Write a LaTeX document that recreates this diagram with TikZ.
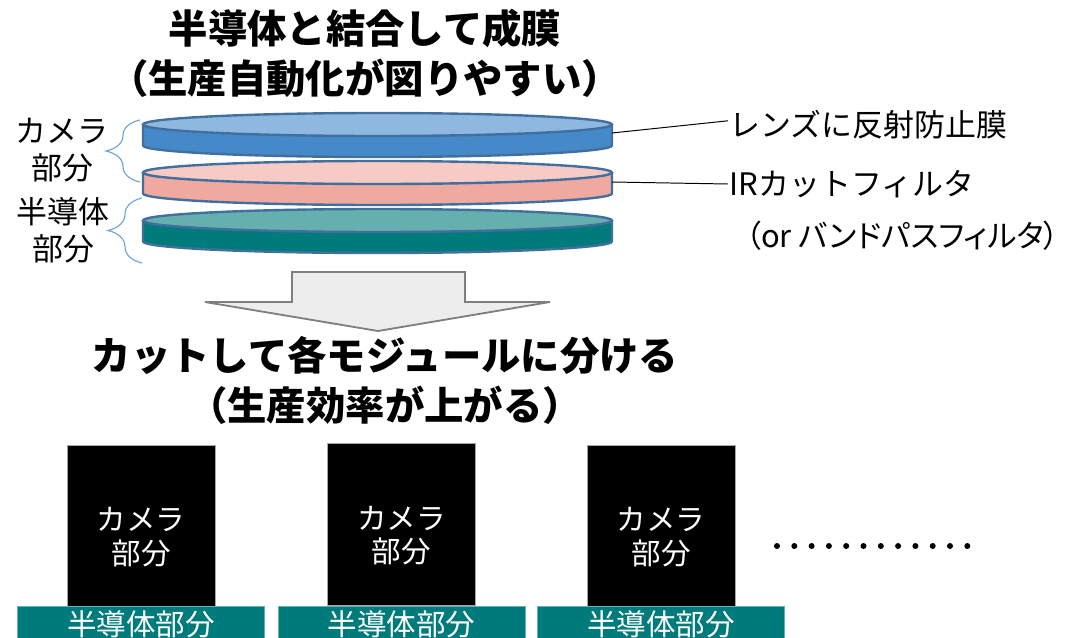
\documentclass[tikz,border=0pt]{standalone}
\usepackage{fontspec}
\setmainfont{Noto Sans CJK JP}
\usetikzlibrary{decorations.pathreplacing}
\definecolor{LensTop}{HTML}{8FB8E0}
\definecolor{LensSide}{HTML}{4589C9}
\definecolor{FilterTop}{HTML}{F7CBC5}
\definecolor{FilterSide}{HTML}{EFA99F}
\definecolor{SensorTop}{HTML}{66AFAF}
\definecolor{SensorSide}{HTML}{007B7B}
\definecolor{Rim}{HTML}{41709E}
\definecolor{Bracket}{HTML}{6FA3D8}
\definecolor{Muted}{HTML}{7F7F7F}
\definecolor{Pale}{HTML}{EDEDED}

% one layer of the stack: #1 centre y of the top face, #2 top colour, #3 side colour
\newcommand\waferdisc[3]{%
  \fill[#3] (143,#1) rectangle (612,#1+21);
  \fill[#3] (377.5,#1+21) ellipse (234.5 and 11.5);
  \draw[rim] (143,#1) -- (143,#1+21) arc (180:0:234.5 and 11.5) -- (612,#1);
  \filldraw[rim,fill=#2] (377.5,#1) ellipse (234.5 and 11.5);
}

\begin{document}
\begin{tikzpicture}[x=0.025cm,y=-0.025cm,
      rim/.style={draw=Rim,line width=1.7pt},
      title/.style={font=\bfseries\fontsize{28}{35.5}\selectfont,align=center},
      sidelabel/.style={font=\fontsize{22}{26.5}\selectfont,align=center},
      note/.style={font=\fontsize{22}{28}\selectfont,anchor=west,inner sep=1pt},
      leader/.style={draw=black,line width=0.7pt},
      curly/.style={draw=Bracket,line width=0.8pt,decorate,
        decoration={brace,amplitude=0.85cm}},
      module/.style={fill=black,draw=gray!70,line width=0.4pt,
        minimum width=3.7cm,minimum height=4.05cm,inner sep=0pt},
      modtext/.style={text=white,font=\fontsize{21}{24}\selectfont,align=center},
      base/.style={fill=SensorSide,draw=SensorSide!60,line width=0.4pt,text=white,
        minimum width=6.18cm,minimum height=0.9cm,inner sep=0pt,
        font=\fontsize{21}{24}\selectfont},
      bigarrow/.style={draw=Muted,fill=Pale,line width=1.3pt,line join=miter}]
  \useasboundingbox (0,0) rectangle (1079,638);

  \node[title] (merge) at (365,53) {半導体と結合して成膜\\（生産自動化が図りやすい）};

  % stacked layers
  \waferdisc{124.5}{LensTop}{LensSide}
  \waferdisc{172.5}{FilterTop}{FilterSide}
  \waferdisc{220.5}{SensorTop}{SensorSide}

  \node[sidelabel] (camera) at (62,150) {カメラ\\部分};
  \node[sidelabel] (sensor) at (63,230) {半導体\\部分};
  \draw[curly] (140,182) -- (140,120);
  \draw[curly] (142,263) -- (142,198);

  \coordinate (lensR) at (612,133);
  \coordinate (filterR) at (612,182);
  \node[note] (coat) at (728,125) {レンズに反射防止膜};
  \node[note] (ircut) at (728,184) {IRカットフィルタ};
  \node[note] (bandpass) at (744,236)
    {\addfontfeature{RawFeature=+palt}（or バンドパスフィルタ）};
  \draw[leader] (lensR) -- ([yshift=3pt]coat.west);
  \draw[leader] (filterR) -- (ircut.west);

  \draw[bigarrow] (292,272) -- (465,272) -- (465,302) -- (550,302)
    -- (378,331) -- (205,302) -- (292,302) -- cycle;

  \node[title] (dice) at (385,380) {カットして各モジュールに分ける\\（生産効率が上がる）};

  % diced modules
  \node[module] (mod1) at (141,526) {};
  \node[module] (mod2) at (401.5,524.5) {};
  \node[module] (mod3) at (661,526) {};
  \node[modtext] (mod1txt) at ([yshift=-8pt]mod1.center) {カメラ\\部分};
  \node[modtext] (mod2txt) at ([yshift=-8pt]mod2.center) {カメラ\\部分};
  \node[modtext] (mod3txt) at ([yshift=-8pt]mod3.center) {カメラ\\部分};
  \node[base] (base1) at (141,624) {半導体部分};
  \node[base] (base2) at (401.5,624) {半導体部分};
  \node[base] (base3) at (661,624) {半導体部分};

  \foreach \i in {0,...,11}
    \fill (777+17.3*\i,546) circle (3);
\end{tikzpicture}
\end{document}
